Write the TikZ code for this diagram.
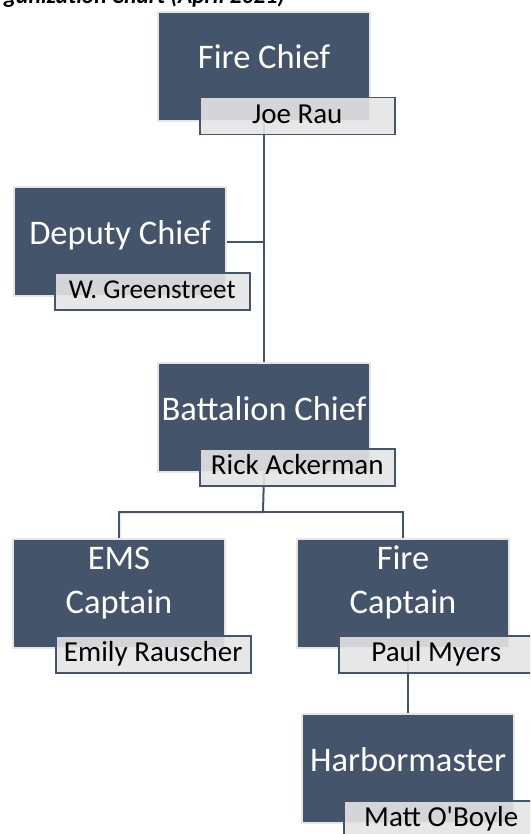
\documentclass[tikz,border=0pt]{standalone}
\usepackage{fontspec}
\setmainfont{Carlito}
\usetikzlibrary{backgrounds}
\definecolor{slate}{HTML}{44546A}
\definecolor{paper}{HTML}{E7E6E6}
\definecolor{tagfill}{HTML}{E4E4E4}

\begin{document}
\begin{tikzpicture}[x=1pt, y=-1pt,
  role/.style={shape=rectangle, fill=slate, draw=paper, line width=2pt, anchor=north west,
    minimum width=212pt, minimum height=109pt, inner sep=0pt, text=white,
    font=\fontsize{34.5}{44}\selectfont, text height=29pt, text depth=24pt},
  role2/.style={role, text height=70pt, text depth=31pt},
  tag/.style={shape=rectangle, fill=tagfill, fill opacity=0.9, text opacity=1, draw=slate,
    line width=1.5pt, anchor=north west, minimum width=195pt, minimum height=37pt,
    inner sep=0pt, font=\fontsize{29}{34}\selectfont, text height=20pt, text depth=5pt},
  link/.style={draw=slate, line width=2pt}]
\useasboundingbox (0,0) rectangle (530,834);
\clip (0,0) rectangle (530,834);
% title, cut at the top edge
\node[anchor=base east, inner sep=0pt, font=\fontsize{23.5}{28}\selectfont\bfseries\itshape] (title) at (285,4) {ganization Chart (April 2021)};
% boxes
\node[role] (fc) at (157,11) {Fire Chief};
\node[tag] (fct) at (199,97) {Joe Rau};
\node[role] (dc) at (13,186) {Deputy Chief};
\node[tag, font=\fontsize{27.2}{32}\selectfont] (dct) at (54,272) {W. Greenstreet};
\node[role] (bc) at (157,362) {Battalion Chief};
\node[tag] (bct) at (199,448) {Rick Ackerman};
\node[role2] (ems) at (12,538) {\begin{tabular}[b]{@{}c@{}}EMS\\Captain\end{tabular}};
\node[tag] (emst) at (55,635) {Emily Rauscher};
\node[role2] (fcap) at (296,538) {\begin{tabular}[b]{@{}c@{}}Fire\\Captain\end{tabular}};
\node[tag] (fcapt) at (338,635) {Paul Myers};
\node[role] (hm) at (301,713) {Harbormaster};
\node[tag] (hmt) at (343,800) {Matt O\textquotesingle Boyle};
% connectors
\coordinate (split) at (263,512);
\begin{scope}[on background layer]
\draw[link] (fc.south) -- (bc.north);
\draw[link] (dc.east) -- (dc.east -| fc.south);
\draw[link] (bc.south) -- (split) -| (ems.north);
\draw[link] (split) -| (fcap.north);
\draw[link] (hm.north |- fcap.south) -- (hm.north);
\end{scope}
\end{tikzpicture}
\end{document}
